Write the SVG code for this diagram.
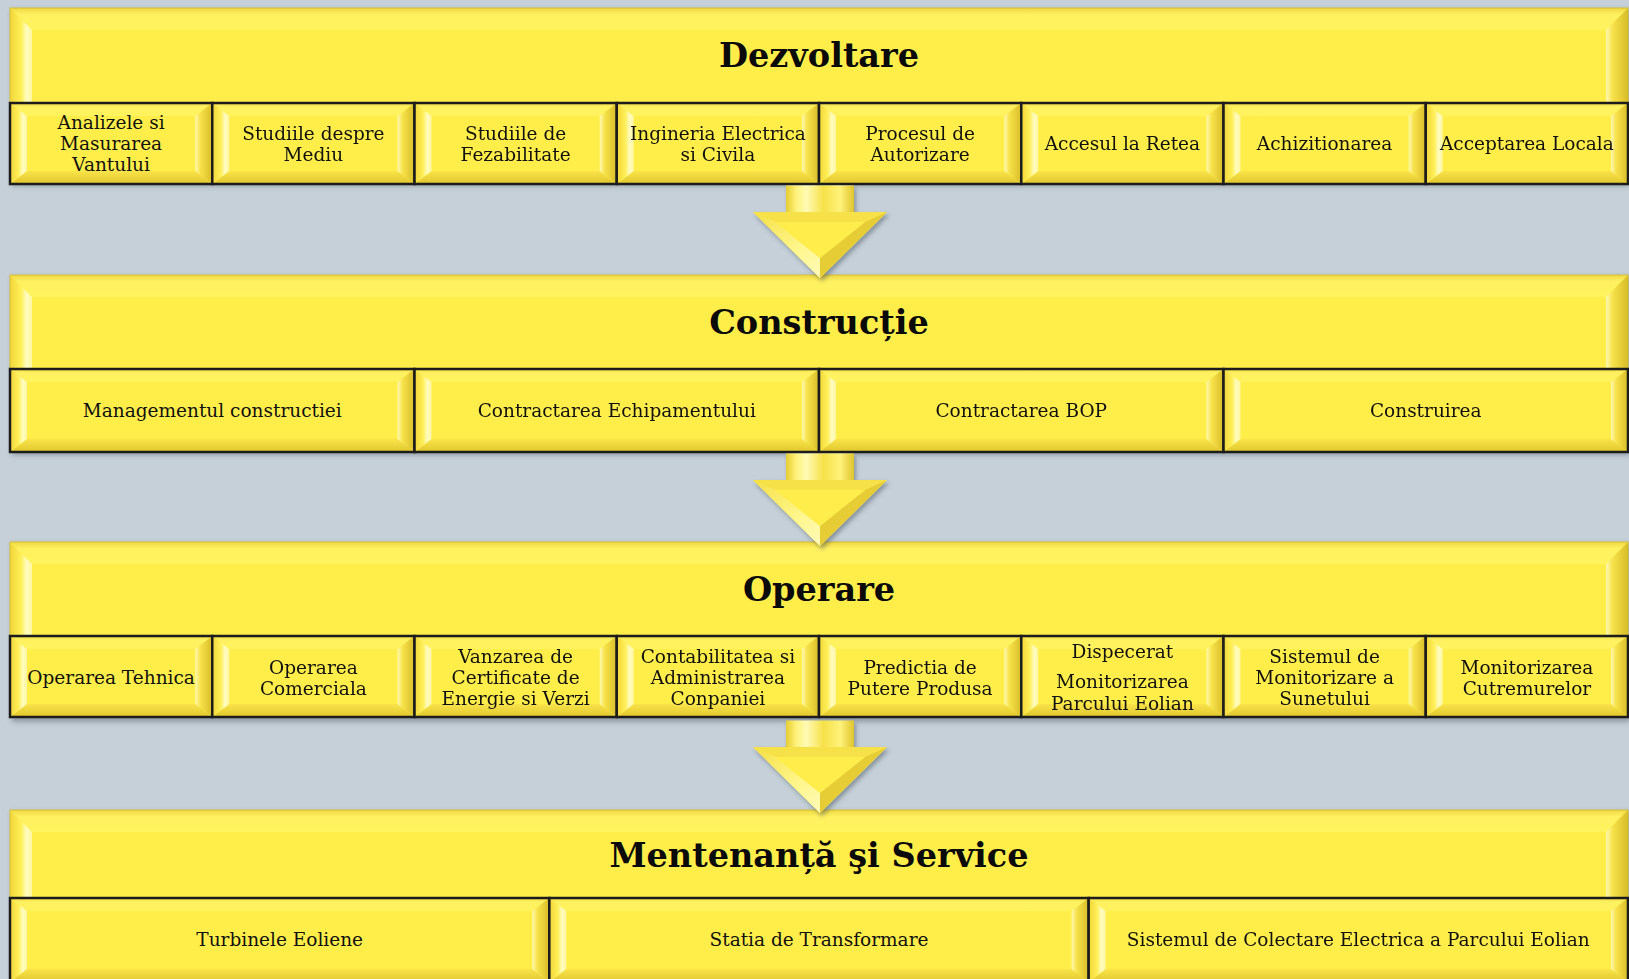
<svg xmlns="http://www.w3.org/2000/svg" xmlns:xlink="http://www.w3.org/1999/xlink" width="1629" height="979" viewBox="0 0 1629 979">
<style>
.base{fill:#FFEE4A}
.bt{fill:url(#gt)}
.bb{fill:url(#gb)}
.bl{fill:url(#gl)}
.br{fill:url(#gr)}
.frame{fill:none;stroke:#1c1c1c;stroke-width:2.5}
.hedge{fill:none;stroke:#D8C036;stroke-width:1}
.t{font-family:"DejaVu Serif","Liberation Serif",serif;font-size:18.5px;text-anchor:middle;fill:#111}
.h{font-family:"DejaVu Serif","Liberation Serif",serif;font-size:33.5px;font-weight:bold;text-anchor:middle;fill:#0a0a0a}
.sh{fill:#4d5a66;opacity:.45}
</style>
<defs>
<linearGradient id="gt" x1="0" y1="0" x2="0" y2="1"><stop offset="0" stop-color="#EED843"/><stop offset=".3" stop-color="#FFF160"/><stop offset="1" stop-color="#FFF35E"/></linearGradient>
<linearGradient id="gb" x1="0" y1="0" x2="0" y2="1"><stop offset="0" stop-color="#FAE44A"/><stop offset="1" stop-color="#E0C62E"/></linearGradient>
<linearGradient id="gl" x1="0" y1="0" x2="1" y2="0"><stop offset="0" stop-color="#F0D63A"/><stop offset=".5" stop-color="#FFEF56"/><stop offset=".75" stop-color="#FFFCC0"/><stop offset="1" stop-color="#FFF7A0"/></linearGradient>
<linearGradient id="gr" x1="0" y1="0" x2="1" y2="0"><stop offset="0" stop-color="#FFF9B0"/><stop offset=".3" stop-color="#F7E24A"/><stop offset="1" stop-color="#D8BD28"/></linearGradient>
<linearGradient id="gs" x1="0" y1="0" x2="1" y2="0"><stop offset="0" stop-color="#E6CD32"/><stop offset=".15" stop-color="#FFF27A"/><stop offset=".3" stop-color="#FFFAB4"/><stop offset=".55" stop-color="#F6E14A"/><stop offset=".8" stop-color="#FFF27A"/><stop offset="1" stop-color="#DEC42C"/></linearGradient>
<linearGradient id="ga" x1="0" y1="0" x2="1" y2="1"><stop offset="0" stop-color="#F4DE44"/><stop offset=".6" stop-color="#FFF68A"/><stop offset="1" stop-color="#FFFAB8"/></linearGradient>
<filter id="blur" x="-5%" y="-30%" width="110%" height="160%"><feGaussianBlur stdDeviation="2.5"/></filter>
<filter id="ds" x="-20%" y="-20%" width="140%" height="140%"><feDropShadow dx="2" dy="3" stdDeviation="2" flood-color="#3d4a55" flood-opacity=".45"/></filter>
<g id="hdr">
<rect class="base" x="0" y="0" width="1618" height="115"/>
<polygon class="bt" points="0,0 1618,0 1596,22 22,22"/>
<polygon class="bl" points="0,0 22,22 22,93 0,115"/>
<polygon class="br" points="1618,0 1596,22 1596,93 1618,115"/>
<rect class="hedge" x="0" y="0" width="1618" height="115"/>
</g>
<g id="cell8">
<rect class="base" x="0" y="0" width="202.25" height="81"/>
<polygon class="bt" points="0,0 202.25,0 185.25,13 17,13"/>
<polygon class="bb" points="0,81 202.25,81 185.25,68 17,68"/>
<polygon class="bl" points="0,0 17,13 17,68 0,81"/>
<polygon class="br" points="202.25,0 185.25,13 185.25,68 202.25,81"/>
<rect class="frame" x="0" y="0" width="202.25" height="81"/>
</g>
<g id="cell4">
<rect class="base" x="0" y="0" width="404.5" height="83"/>
<polygon class="bt" points="0,0 404.5,0 387.5,13 17,13"/>
<polygon class="bb" points="0,83 404.5,83 387.5,70 17,70"/>
<polygon class="bl" points="0,0 17,13 17,70 0,83"/>
<polygon class="br" points="404.5,0 387.5,13 387.5,70 404.5,83"/>
<rect class="frame" x="0" y="0" width="404.5" height="83"/>
</g>
<g id="cell3">
<rect class="base" x="0" y="0" width="539.33" height="84"/>
<polygon class="bt" points="0,0 539.33,0 522.33,13 17,13"/>
<polygon class="bb" points="0,84 539.33,84 522.33,71 17,71"/>
<polygon class="bl" points="0,0 17,13 17,71 0,84"/>
<polygon class="br" points="539.33,0 522.33,13 522.33,71 539.33,84"/>
<rect class="frame" x="0" y="0" width="539.33" height="84"/>
</g>
<g id="arrow">
<rect x="-34" y="1.5" width="68" height="27.5" fill="url(#gs)"/>
<polygon points="-67,28 67,28 0,94" fill="#FFEE4E"/>
<polygon points="-67,28 67,28 45,38 -45,38" fill="#F6E14A"/>
<polygon points="-67,28 -45,38 0,74 0,94" fill="url(#ga)"/>
<polygon points="67,28 45,38 0,74 0,94" fill="#E6CC34"/>
<polygon points="-45,38 45,38 0,74" fill="#FFED4C"/>
</g>
</defs>
<rect x="0" y="0" width="1629" height="979" fill="#C6D0D8"/>
<g id="shadows" filter="url(#blur)">
<rect class="sh" x="12" y="10" width="1618" height="176"/>
<rect class="sh" x="12" y="277" width="1618" height="178"/>
<rect class="sh" x="12" y="544" width="1618" height="178"/>
<rect class="sh" x="12" y="812" width="1618" height="170"/>
</g>

<g id="dezvoltare">
<use href="#hdr" x="10" y="8"/>
<text class="h" x="819" y="67">Dezvoltare</text>
</g>
<g id="dev-1"><use href="#cell8" x="10" y="103"/><text class="t"><tspan x="111.1" y="129">Analizele si</tspan><tspan x="111.1" y="150">Masurarea</tspan><tspan x="111.1" y="171">Vantului</tspan></text></g>
<g id="dev-2"><use href="#cell8" x="212.25" y="103"/><text class="t"><tspan x="313.4" y="139.5">Studiile despre</tspan><tspan x="313.4" y="160.5">Mediu</tspan></text></g>
<g id="dev-3"><use href="#cell8" x="414.5" y="103"/><text class="t"><tspan x="515.6" y="139.5">Studiile de</tspan><tspan x="515.6" y="160.5">Fezabilitate</tspan></text></g>
<g id="dev-4"><use href="#cell8" x="616.75" y="103"/><text class="t"><tspan x="717.9" y="139.5">Ingineria Electrica</tspan><tspan x="717.9" y="160.5">si Civila</tspan></text></g>
<g id="dev-5"><use href="#cell8" x="819" y="103"/><text class="t"><tspan x="920.1" y="139.5">Procesul de</tspan><tspan x="920.1" y="160.5">Autorizare</tspan></text></g>
<g id="dev-6"><use href="#cell8" x="1021.25" y="103"/><text class="t" x="1122.4" y="150">Accesul la Retea</text></g>
<g id="dev-7"><use href="#cell8" x="1223.5" y="103"/><text class="t" x="1324.6" y="150">Achizitionarea</text></g>
<g id="dev-8"><use href="#cell8" x="1425.75" y="103"/><text class="t" x="1526.9" y="150">Acceptarea Locala</text></g>

<g id="constructie">
<use href="#hdr" x="10" y="275"/>
<text class="h" x="819" y="334">Construcție</text>
</g>
<g id="con-1"><use href="#cell4" x="10" y="369"/><text class="t" x="212.25" y="417">Managementul constructiei</text></g>
<g id="con-2"><use href="#cell4" x="414.5" y="369"/><text class="t" x="616.75" y="417">Contractarea Echipamentului</text></g>
<g id="con-3"><use href="#cell4" x="819" y="369"/><text class="t" x="1021.25" y="417">Contractarea BOP</text></g>
<g id="con-4"><use href="#cell4" x="1223.5" y="369"/><text class="t" x="1425.75" y="417">Construirea</text></g>

<g id="operare">
<use href="#hdr" x="10" y="542"/>
<text class="h" x="819" y="601">Operare</text>
</g>
<g id="op-1"><use href="#cell8" x="10" y="636"/><text class="t" x="111.1" y="684">Operarea Tehnica</text></g>
<g id="op-2"><use href="#cell8" x="212.25" y="636"/><text class="t"><tspan x="313.4" y="673.5">Operarea</tspan><tspan x="313.4" y="694.5">Comerciala</tspan></text></g>
<g id="op-3"><use href="#cell8" x="414.5" y="636"/><text class="t"><tspan x="515.6" y="663">Vanzarea de</tspan><tspan x="515.6" y="684">Certificate de</tspan><tspan x="515.6" y="705">Energie si Verzi</tspan></text></g>
<g id="op-4"><use href="#cell8" x="616.75" y="636"/><text class="t"><tspan x="717.9" y="663">Contabilitatea si</tspan><tspan x="717.9" y="684">Administrarea</tspan><tspan x="717.9" y="705">Conpaniei</tspan></text></g>
<g id="op-5"><use href="#cell8" x="819" y="636"/><text class="t"><tspan x="920.1" y="673.5">Predictia de</tspan><tspan x="920.1" y="694.5">Putere Produsa</tspan></text></g>
<g id="op-6"><use href="#cell8" x="1021.25" y="636"/><text class="t"><tspan x="1122.4" y="658">Dispecerat</tspan><tspan x="1122.4" y="688">Monitorizarea</tspan><tspan x="1122.4" y="710">Parcului Eolian</tspan></text></g>
<g id="op-7"><use href="#cell8" x="1223.5" y="636"/><text class="t"><tspan x="1324.6" y="663">Sistemul de</tspan><tspan x="1324.6" y="684">Monitorizare a</tspan><tspan x="1324.6" y="705">Sunetului</tspan></text></g>
<g id="op-8"><use href="#cell8" x="1425.75" y="636"/><text class="t"><tspan x="1526.9" y="673.5">Monitorizarea</tspan><tspan x="1526.9" y="694.5">Cutremurelor</tspan></text></g>

<g id="mentenanta">
<use href="#hdr" x="10" y="810"/>
<text class="h" x="819" y="867">Mentenanță şi Service</text>
</g>
<g id="men-1"><use href="#cell3" x="10" y="898"/><text class="t" x="279.7" y="946">Turbinele Eoliene</text></g>
<g id="men-2"><use href="#cell3" x="549.33" y="898"/><text class="t" x="819" y="946">Statia de Transformare</text></g>
<g id="men-3"><use href="#cell3" x="1088.67" y="898"/><text class="t" x="1358.3" y="946">Sistemul de Colectare Electrica a Parcului Eolian</text></g>

<g id="connectors" filter="url(#ds)">
<use href="#arrow" x="820" y="184"/>
<use href="#arrow" x="820" y="452"/>
<use href="#arrow" x="820" y="719"/>
</g>
</svg>
